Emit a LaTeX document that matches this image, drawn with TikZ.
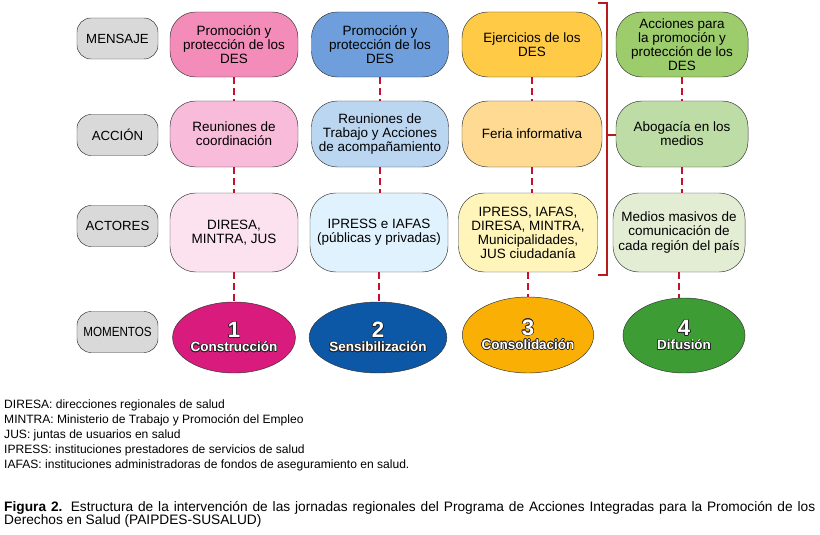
\documentclass[tikz,border=0pt]{standalone}
\usepackage{fontspec}
\setmainfont{Liberation Sans}
\usepackage[copies]{contour}
\usetikzlibrary{shapes.geometric, positioning}
\definecolor{labgray}{HTML}{D9D9D9}
\definecolor{msgpink}{HTML}{F48CB9}
\definecolor{accpink}{HTML}{F8BBDA}
\definecolor{actpink}{HTML}{FCE1EE}
\definecolor{mompink}{HTML}{D81B7C}
\definecolor{msgblue}{HTML}{6E9FDC}
\definecolor{accblue}{HTML}{BBD6F1}
\definecolor{actblue}{HTML}{E0F2FD}
\definecolor{momblue}{HTML}{0C58A6}
\definecolor{msgyellow}{HTML}{FFCB46}
\definecolor{accyellow}{HTML}{FEDA92}
\definecolor{actyellow}{HTML}{FFF5BA}
\definecolor{momyellow}{HTML}{F9AF03}
\definecolor{msggreen}{HTML}{9DCC6D}
\definecolor{accgreen}{HTML}{BEDCA5}
\definecolor{actgreen}{HTML}{E3EDD4}
\definecolor{momgreen}{HTML}{3E9C35}
\definecolor{dashred}{HTML}{C8102E}
\definecolor{brkred}{HTML}{B71C1C}
\contourlength{0.5pt}
\newcommand{\momtext}[2]{\contour{black!85}{\fontsize{19}{19}\selectfont #1}\\\contour{black!85}{#2}}

\begin{document}
\begin{tikzpicture}[
    x=0.03cm, y=-0.03cm,
    tag/.style={draw=black!80, fill=labgray, rounded corners=12pt, minimum width=2.43cm, minimum height=1.23cm, inner sep=1pt, font=\fontsize{11.3}{12}\selectfont},
    box/.style={draw=black!80, rounded corners=22pt, align=center, inner sep=1pt, font=\fontsize{11.5}{12}\selectfont},
    rowa/.style={minimum height=1.95cm},
    rowb/.style={minimum height=1.98cm},
    rowc/.style={minimum height=2.37cm},
    mom/.style={ellipse, draw=black!80, align=center, inner sep=0pt, text=white, font=\bfseries\fontsize{11.5}{12}\selectfont},
    link/.style={draw=dashred, line width=1.6pt, dash pattern=on 5.5pt off 4pt},
    brk/.style={draw=brkred, line width=1.7pt},
]
\useasboundingbox (0,0) rectangle (820,534);

% row labels
\node[tag] (lmsg) at (117.5,38.5) {MENSAJE};
\node[tag] (lacc) at (117.5,135) {ACCIÓN};
\node[tag] (lact) at (117.5,226) {ACTORES};
\node[tag] (lmom) at (117.5,332) {\scalebox{0.88}[1]{MOMENTOS}};

% column 1
\node[box, rowa, fill=msgpink, minimum width=3.84cm] (c1r1) at (234,44.5) {Promoción y\\protección de los\\DES};
\node[box, rowb, fill=accpink, minimum width=3.84cm] (c1r2) at (234,134) {Reuniones de\\coordinación};
\node[box, rowc, fill=actpink, minimum width=3.84cm] (c1r3) at (234,232.5) {DIRESA,\\MINTRA, JUS};
\node[mom, fill=mompink, minimum width=3.63cm, minimum height=2.13cm] (m1) at (234,337.5) {\momtext{1}{Construcción}};

% column 2
\node[box, rowa, fill=msgblue, minimum width=4.11cm] (c2r1) at (380,44.5) {Promoción y\\protección de los\\DES};
\node[box, rowb, fill=accblue, minimum width=4.11cm] (c2r2) at (380,134) {Reuniones de\\Trabajo y Acciones\\de acompañamiento};
\node[box, rowc, fill=actblue, minimum width=4.14cm] (c2r3) at (379,232.5) {IPRESS e IAFAS\\(públicas y privadas)};
\node[mom, fill=momblue, minimum width=3.27cm, minimum height=2.13cm] (m2) at (378,337.5) {\momtext{2}{Sensibilización}};

% column 3
\node[box, rowa, fill=msgyellow, minimum width=4.2cm] (c3r1) at (532,44.5) {Ejercicios de los\\DES};
\node[box, rowb, fill=accyellow, minimum width=4.2cm] (c3r2) at (532,134) {Feria informativa};
\node[box, rowc, fill=actyellow, minimum width=4.17cm] (c3r3) at (528,232.5) {IPRESS, IAFAS,\\DIRESA, MINTRA,\\Municipalidades,\\JUS ciudadanía};
\node[mom, fill=momyellow, minimum width=3.63cm, minimum height=2.28cm] (m3) at (528,335) {\momtext{3}{Consolidación}};

% column 4
\node[box, rowa, fill=msggreen, minimum width=3.96cm] (c4r1) at (682,44.5) {Acciones para\\la promoción y\\protección de los\\DES};
\node[box, rowb, fill=accgreen, minimum width=3.96cm] (c4r2) at (682,134) {Abogacía en los\\medios};
\node[box, rowc, fill=actgreen, minimum width=3.96cm] (c4r3) at (679,232.5) {Medios masivos de\\comunicación de\\cada región del país};
\node[mom, fill=momgreen, minimum width=3.66cm, minimum height=2.25cm] (m4) at (684,335.5) {\momtext{4}{Difusión}};

\foreach \a/\b in {c1r1/c1r2, c1r2/c1r3, c1r3/m1, c2r1/c2r2, c2r2/c2r3, c2r3/m2,
                   c3r1/c3r2, c3r2/c3r3, c3r3/m3, c4r1/c4r2, c4r2/c4r3, c4r3/m4} {
    \draw[link] (\a.south) -- (\a.south |- \b.north);
}

% bracket
\draw[brk] (598,3) -| (607,275) -- (598,275);
\coordinate (bmid) at (607,135);
\draw[brk] (bmid) -- (bmid -| c4r2.west);

% notes and caption
\node[anchor=north west, align=left, inner sep=0pt, font=\fontsize{10.3}{12.75}\selectfont] (notes) at (4,400) {DIRESA: direcciones regionales de salud\\MINTRA: Ministerio de Trabajo y Promoción del Empleo\\JUS: juntas de usuarios en salud\\IPRESS: instituciones prestadores de servicios de salud\\IAFAS: instituciones administradoras de fondos de aseguramiento en salud.};
\node[anchor=north west, align=justify, text width=24.33cm, inner sep=0pt, font=\fontsize{11.7}{11.1}\selectfont] (caption) at (4,501) {\textbf{Figura 2.} Estructura de la intervención de las jornadas regionales del Programa de Acciones Integradas para la Promoción de los\linebreak Derechos en Salud (PAIPDES-SUSALUD)};
\end{tikzpicture}
\end{document}
